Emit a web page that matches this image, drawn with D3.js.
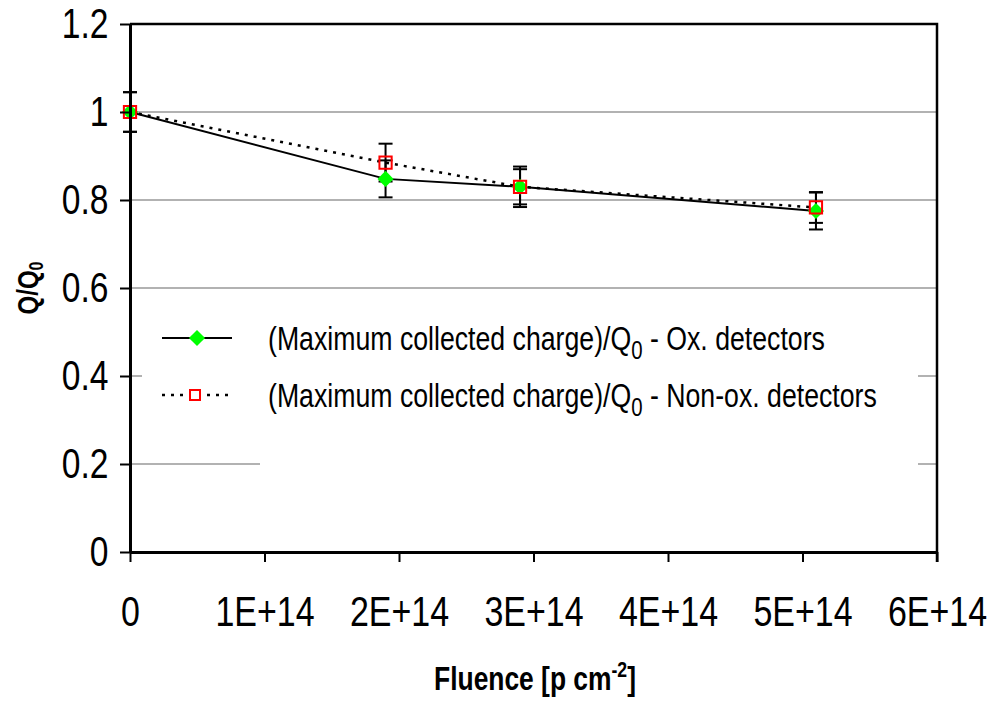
<!DOCTYPE html>
<html>
<head>
<meta charset="utf-8">
<script src="https://cdn.jsdelivr.net/npm/d3@7"></script>
<style>
  body { margin: 0; background: #fff; }
  svg { display: block; font-family: "Liberation Sans", Arial, sans-serif; }
</style>
</head>
<body>
<div id="chart"></div>
<script>
// values
const fluence = [0, 1.9e14, 2.9e14, 5.1e14];
const oxQ = [1, 0.848, 0.83, 0.775];
const oxErr = [0.045, 0.042, 0.04, 0.042];
const nonoxQ = [1, 0.885, 0.83, 0.783];
const nonoxErr = [0.045, 0.043, 0.046, 0.035];

const xTicks = [0, 1e14, 2e14, 3e14, 4e14, 5e14, 6e14];
const xTickLabels = ["0", "1E+14", "2E+14", "3E+14", "4E+14", "5E+14", "6E+14"];
const yTicks = [0, 0.2, 0.4, 0.6, 0.8, 1, 1.2];
const yTickLabels = ["0", "0.2", "0.4", "0.6", "0.8", "1", "1.2"];

const W = 996, H = 701;
const PLOT = {left: 130, right: 937, top: 24, bottom: 552};
const SX = 0.8; // text in the original is horizontally squeezed

const svg = d3.select("#chart").append("svg")
  .attr("width", W).attr("height", H);

const x = d3.scaleLinear().domain([0, 6e14]).range([PLOT.left, PLOT.right]);
const y = d3.scaleLinear().domain([0, 1.2]).range([PLOT.bottom, PLOT.top]);

// gridlines
svg.append("g").selectAll("line")
  .data(yTicks.filter(v => v > 0 && v < 1.2))
  .join("line")
    .attr("x1", PLOT.left).attr("x2", PLOT.right)
    .attr("y1", d => y(d)).attr("y2", d => y(d))
    .attr("stroke", "#999").attr("stroke-width", 1.5);

// legend background (hides part of the gridlines)
svg.append("rect").attr("x", 142).attr("y", 300).attr("width", 776).attr("height", 120).attr("fill", "#fff");
svg.append("rect").attr("x", 260).attr("y", 420).attr("width", 658).attr("height", 60).attr("fill", "#fff");

const pts = (vals) => fluence.map((f, i) => [x(f), y(vals[i])]);

// series lines
svg.append("path")
  .attr("d", d3.line()(pts(nonoxQ)))
  .attr("fill", "none").attr("stroke", "#000")
  .attr("stroke-width", 2.5).attr("stroke-dasharray", "3,6");
svg.append("path")
  .attr("d", d3.line()(pts(oxQ)))
  .attr("fill", "none").attr("stroke", "#000").attr("stroke-width", 2);

// error bars
function errorBars(vals, errs) {
  const g = svg.append("g").attr("stroke", "#000").attr("stroke-width", 2);
  fluence.forEach((f, i) => {
    const cx = x(f), y1 = y(vals[i] + errs[i]), y2 = y(vals[i] - errs[i]);
    g.append("line").attr("x1", cx).attr("x2", cx).attr("y1", y1).attr("y2", y2);
    g.append("line").attr("x1", cx - 7).attr("x2", cx + 7).attr("y1", y1).attr("y2", y1);
    g.append("line").attr("x1", cx - 7).attr("x2", cx + 7).attr("y1", y2).attr("y2", y2);
  });
}
errorBars(oxQ, oxErr);
errorBars(nonoxQ, nonoxErr);

// markers
const diamond = d3.symbol().type(d3.symbolSquare).size(130);
const square = d3.symbol().type(d3.symbolSquare).size(150);

svg.append("g").selectAll("path")
  .data(pts(oxQ))
  .join("path")
    .attr("d", diamond)
    .attr("transform", d => `translate(${d[0]},${d[1]}) rotate(45)`)
    .attr("fill", "#00ff00");

svg.append("g").selectAll("path")
  .data(pts(nonoxQ))
  .join("path")
    .attr("d", square)
    .attr("transform", d => `translate(${d[0]},${d[1]})`)
    .attr("fill", "none").attr("stroke", "#ff0000").attr("stroke-width", 2);

// axes
const yAxis = svg.append("g")
  .attr("transform", `translate(${PLOT.left},0)`)
  .call(d3.axisLeft(y).tickValues(yTicks).tickFormat((d, i) => yTickLabels[i])
    .tickSize(10).tickPadding(17).tickSizeOuter(0));
yAxis.select(".domain").attr("stroke-width", 3);
yAxis.selectAll(".tick line").attr("stroke-width", 2);
yAxis.selectAll(".tick text")
  .attr("font-size", 42).attr("fill", "#000")
  .attr("transform", `scale(${SX},1)`);

const xAxis = svg.append("g")
  .attr("transform", `translate(0,${PLOT.bottom})`)
  .call(d3.axisBottom(x).tickValues(xTicks).tickFormat((d, i) => xTickLabels[i])
    .tickSize(10).tickPadding(33).tickSizeOuter(0));
xAxis.select(".domain").attr("stroke-width", 3);
xAxis.selectAll(".tick line").attr("stroke-width", 2);
xAxis.selectAll(".tick text")
  .attr("font-size", 43).attr("fill", "#000")
  .attr("transform", `scale(0.79,1)`);

// top and right border
svg.append("path")
  .attr("d", `M${PLOT.left},${PLOT.top}H${PLOT.right}V${PLOT.bottom + 10}`)
  .attr("fill", "none").attr("stroke", "#000").attr("stroke-width", 2.5);

// axis titles
const yt = svg.append("g").attr("transform", `translate(38,288) rotate(-90)`)
  .append("text")
    .attr("text-anchor", "middle")
    .attr("font-size", 30).attr("font-weight", "bold")
    .attr("transform", `scale(${SX},1)`);
yt.append("tspan").text("Q/Q");
yt.append("tspan").attr("font-size", 20).attr("dy", 5).text("0");

const xt = svg.append("g").attr("transform", `translate(535,690)`)
  .append("text")
    .attr("text-anchor", "middle")
    .attr("font-size", 33).attr("font-weight", "bold")
    .attr("transform", `scale(${SX},1)`);
xt.append("tspan").text("Fluence [p cm");
xt.append("tspan").attr("font-size", 22).attr("dy", -13).text("-2");
xt.append("tspan").attr("dy", 13).text("]");

// legend
const legendItems = [
  {label: "(Maximum collected charge)/Q", rest: " - Ox. detectors", y: 338, kind: "ox"},
  {label: "(Maximum collected charge)/Q", rest: " - Non-ox. detectors", y: 395, kind: "nonox"}
];

legendItems.forEach(item => {
  const g = svg.append("g");
  if (item.kind === "ox") {
    g.append("line").attr("x1", 162).attr("x2", 232).attr("y1", item.y).attr("y2", item.y)
      .attr("stroke", "#000").attr("stroke-width", 2);
    g.append("path").attr("d", diamond)
      .attr("transform", `translate(197,${item.y}) rotate(45)`).attr("fill", "#00ff00");
  } else {
    g.append("line").attr("x1", 162).attr("x2", 232).attr("y1", item.y).attr("y2", item.y)
      .attr("stroke", "#000").attr("stroke-width", 2.5).attr("stroke-dasharray", "3,6");
    g.append("path").attr("d", d3.symbol().type(d3.symbolSquare).size(100))
      .attr("transform", `translate(195,${item.y})`)
      .attr("fill", "#fff").attr("stroke", "#ff0000").attr("stroke-width", 2);
  }
  const t = g.append("g").attr("transform", `translate(268,${item.y + 12})`)
    .append("text")
      .attr("font-size", 34).attr("fill", "#000")
      .attr("transform", `scale(0.785,1)`);
  t.append("tspan").text(item.label);
  t.append("tspan").attr("font-size", 26).attr("dy", 9).text("0");
  t.append("tspan").attr("dy", -9).text(item.rest);
});
</script>
</body>
</html>
